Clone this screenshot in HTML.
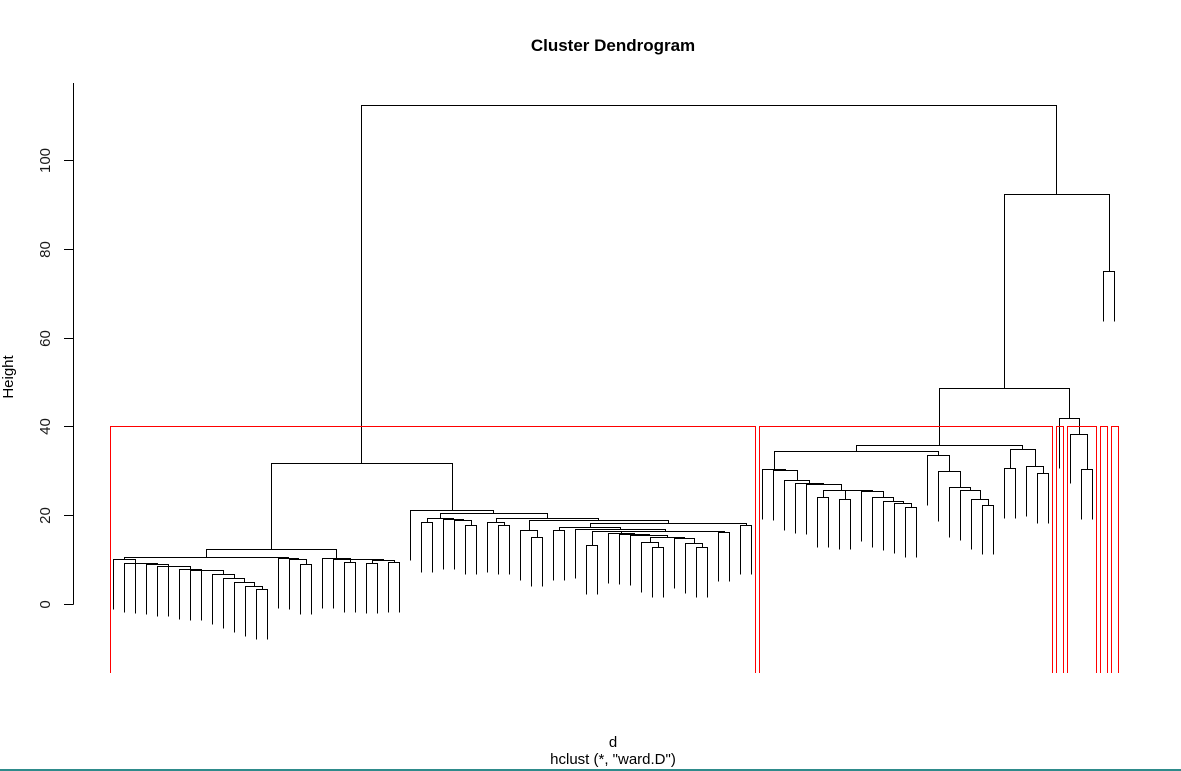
<!DOCTYPE html>
<html><head><meta charset="utf-8"><style>
html,body{margin:0;padding:0;background:#fff;}
svg{display:block;font-family:"Liberation Sans",Arial,sans-serif;}
</style></head><body>
<svg id="chart" width="1181" height="771" viewBox="0 0 1181 771" xmlns="http://www.w3.org/2000/svg">
<rect x="0" y="0" width="1181" height="771" fill="#fff"/>
<text x="613" y="51" text-anchor="middle" font-size="17" font-weight="bold">Cluster Dendrogram</text>
<text x="613" y="747" text-anchor="middle" font-size="15">d</text>
<text x="613" y="764" text-anchor="middle" font-size="15">hclust (*, "ward.D")</text>
<text transform="translate(13,377) rotate(-90)" text-anchor="middle" font-size="15">Height</text>
<line x1="0" y1="770" x2="1181" y2="770" stroke="#2e8b8b" stroke-width="2"/>
<g id="axis" shape-rendering="crispEdges"></g>
<g id="tree" shape-rendering="crispEdges"></g>
<g id="boxes" shape-rendering="crispEdges"></g>
</svg>
<script>
// ---- data ----
const yTicks = [0, 20, 40, 60, 80, 100];
const cutHeight = 40.1;
const hangHeight = 11.2;
const A1 = [10.1,0,[9.3,0,[9.2,0,[8.9,0,[8.6,0,[8.5,0,[7.9,0,[7.7,0,[7.6,0,[6.7,0,[5.8,0,[4.9,0,[4.0,0,[3.3,0,0]]]]]]]]]]]]]];
const A2 = [10.3,0,[10.1,0,[8.9,0,0]]];
const A3 = [10.3,0,[10.2,0,[10.1,[9.4,0,0],[9.9,[9.2,0,0],[9.4,0,0]]]]];
const B1 = [19.4,[18.4,0,0],[19.1,0,[19.0,0,[17.9,0,0]]]];
const B2 = [18.4,0,[17.9,0,0]];
const B3 = [16.6,0,[15.2,0,0]];
const B4 = [18.2,[17.3,[16.6,0,0],[17.0,0,[16.4,[16.45,[13.4,0,0],[15.9,0,[15.7,0,[15.5,0,[15.0,[13.9,0,[12.8,0,0]],[14.8,0,[13.7,0,[12.8,0,0]]]]]]]],[16.3,0,0]]]],[17.9,0,0]];
const D1 = [30.3,0,[30.1,0,[27.9,0,[27.2,0,[27.0,0,[25.65,[24.0,0,0],[25.6,[23.6,0,0],[25.4,0,[24.0,0,[23.3,0,[22.7,0,[21.8,0,0]]]]]]]]]]]];
const D2 = [33.5,0,[29.9,0,[26.3,0,[25.6,0,[23.6,0,[22.4,0,0]]]]]];
const D3 = [35.0,[30.6,0,0],[31.0,0,[29.4,0,0]]];
const E = [41.8,0,[38.4,0,[30.3,0,0]]];
const F = [75.0,0,0];
const treeData = [112.4,
  [31.8, [12.5,[10.5,A1,A2],A3], [21.1,0,[20.4,B1,[19.3,B2,[19.0,B3,B4]]]]],
  [92.3, [48.6,[35.7,[34.4,D1,D2],D3],E], F]];

// ---- scales ----
const x0 = 113.3, dx = 11.0;
function xs(i){ return x0 + i*dx; }
function ys(h){ return 604 - h*4.44; }
function px(v){ return Math.round(v)+0.5; }
const NS = "http://www.w3.org/2000/svg";
function ln(g,x1,y1,x2,y2,col){
  const l = document.createElementNS(NS,'line');
  l.setAttribute('x1',x1); l.setAttribute('y1',y1);
  l.setAttribute('x2',x2); l.setAttribute('y2',y2);
  l.setAttribute('stroke',col||'#000'); l.setAttribute('stroke-width','1');
  g.appendChild(l); return l;
}
// axis
const ax = document.getElementById('axis');
const axl = ln(ax,73.5,83,73.5,px(ys(yTicks[0])));


yTicks.forEach(t=>{
  const y = px(ys(t));
  const tk = ln(ax,64,y,73.5,y);
  
  
  const tx = document.createElementNS(NS,'text');
  tx.setAttribute('transform','translate(50,'+y+') rotate(-90)');
  tx.setAttribute('text-anchor','middle');
  tx.setAttribute('font-size','15');
  tx.setAttribute('fill','#1a1a1a');
  tx.textContent = String(t);
  
  
  ax.appendChild(tx);
});
// layout tree
let leafIdx = 0;
function layout(n){
  if(n===0){ const i = leafIdx++; return {leaf:true, x:xs(i), i:i}; }
  const l = layout(n[1]), r = layout(n[2]);
  return {leaf:false, h:n[0], l:l, r:r, x:(l.x+r.x)/2, lo:l.leaf?l.i:l.lo, hi:r.leaf?r.i:r.hi};
}
const root = layout(treeData);
const tg = document.getElementById('tree');
function draw(nd){
  if(nd.leaf) return;
  const y = px(ys(nd.h));
  const ky = c => c.leaf ? px(ys(nd.h - hangHeight)) : px(ys(c.h));
  const seg = document.createElementNS(NS,'path');
  seg.setAttribute('d','M'+px(nd.l.x)+','+ky(nd.l)+'V'+y+'H'+px(nd.r.x)+'V'+ky(nd.r));
  seg.setAttribute('fill','none'); seg.setAttribute('stroke','#000'); seg.setAttribute('stroke-width','1');
  
  
  tg.appendChild(seg);
  draw(nd.l); draw(nd.r);
}
draw(root);
// cluster boxes (open at bottom, like clipped rect.hclust)
const bg = document.getElementById('boxes');
function clusters(nd, out){
  if(nd.leaf){ out.push([nd.i,nd.i]); return; }
  if(nd.h < cutHeight){ out.push([nd.lo,nd.hi]); return; }
  clusters(nd.l,out); clusters(nd.r,out);
}
const cl = []; clusters(root, cl);
cl.forEach(c=>{
  const p = document.createElementNS(NS,'path');
  const xl = px(xs(c[0]) - 3.7), xr = px(xs(c[1]) + 3.6), yt = px(ys(cutHeight));
  p.setAttribute('d','M'+xl+',673V'+yt+'H'+xr+'V673');
  p.setAttribute('fill','none'); p.setAttribute('stroke','#ff0000'); p.setAttribute('stroke-width','1');
  
  
  bg.appendChild(p);
});
</script>
</body></html>
